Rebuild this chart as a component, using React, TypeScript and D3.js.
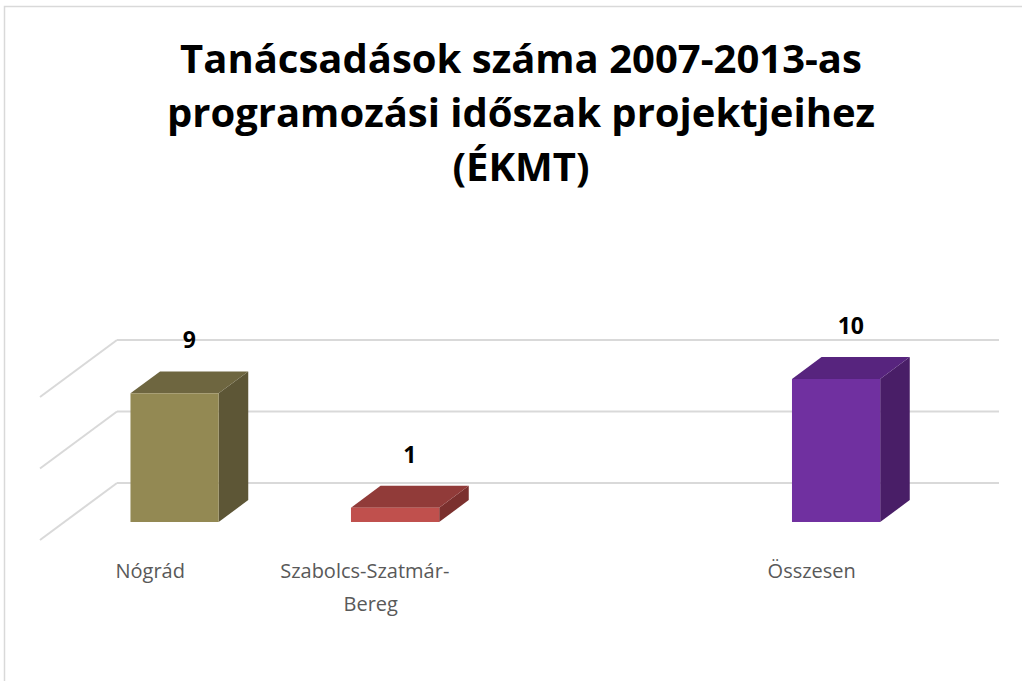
import React from "react";
import * as d3 from "d3";

const categories = ["Nógrád", "Szabolcs-Szatmár-Bereg", "", "Összesen"];
const labelLines = [["Nógrád"], ["Szabolcs-Szatmár-", "Bereg"], [""], ["Összesen"]];
const values: (number | null)[] = [9, 1, null, 10];
const ticks = [0, 5, 10];
const titleLines = [
  "Tanácsadások száma 2007-2013-as",
  "programozási időszak projektjeihez",
  "(ÉKMT)",
];
const frontColors = ["#938953", "#C0504D", "#000000", "#7030A0"];
const topColors = ["#6E6640", "#913B39", "#000000", "#57247E"];
const sideColors = ["#5D5636", "#7B302E", "#000000", "#491E67"];

export default function App() {
  const W = 1022;
  const H = 681;
  const plotLeft = 40;
  const plotRight = 922;
  const depthX = 77;
  const depthY = -57;
  const d0 = 0.316;
  const d1 = 0.7;

  const x = d3
    .scaleBand<string>()
    .domain(categories.map((c, i) => String(i)))
    .range([plotLeft, plotRight])
    .paddingInner(0)
    .paddingOuter(0);
  const y = d3.scaleLinear().domain([0, 10]).range([540, 397]);
  const bw = x.bandwidth() * 0.4;

  const font = "'Open Sans', 'DejaVu Sans', sans-serif";

  return (
    <svg
      width={W}
      height={H}
      style={{ position: "absolute", left: 0, top: 0, background: "#fff" }}
    >
      <rect x={4.5} y={6.5} width={1100} height={720} fill="#fff" stroke="#D9D9D9" strokeWidth={1.5} />
      {titleLines.map((t, i) => (
        <text
          key={i}
          x={521}
          y={73 + i * 54}
          textAnchor="middle"
          fontFamily={font}
          fontWeight={700}
          fontSize={40}
          fill="#000"
        >
          {t}
        </text>
      ))}
      {ticks.map((t) => {
        const yf = y(t);
        return (
          <g key={t} stroke="#D9D9D9" strokeWidth={2} fill="none">
            <line x1={plotLeft} y1={yf} x2={plotLeft + depthX} y2={yf + depthY} />
            <line
              x1={plotLeft + depthX}
              y1={yf + depthY}
              x2={plotRight + depthX}
              y2={yf + depthY}
            />
          </g>
        );
      })}
      {values.map((v, i) => {
        if (v === null) return null;
        const xc = (x(String(i)) as number) + x.bandwidth() / 2;
        const fx0 = xc - bw / 2 + d0 * depthX;
        const fx1 = xc + bw / 2 + d0 * depthX;
        const fyTop = y(v) + d0 * depthY;
        const fyBot = y(0) + d0 * depthY;
        const ddx = (d1 - d0) * depthX;
        const ddy = (d1 - d0) * depthY;
        const topPts = [
          [fx0, fyTop],
          [fx1, fyTop],
          [fx1 + ddx, fyTop + ddy],
          [fx0 + ddx, fyTop + ddy],
        ];
        const sidePts = [
          [fx1, fyTop],
          [fx1 + ddx, fyTop + ddy],
          [fx1 + ddx, fyBot + ddy],
          [fx1, fyBot],
        ];
        const lx = xc + ((d0 + d1) / 2) * depthX;
        const ly = y(v) + d1 * depthY - 23;
        return (
          <g key={i}>
            <polygon points={sidePts.map((p) => p.join(",")).join(" ")} fill={sideColors[i]} />
            <polygon points={topPts.map((p) => p.join(",")).join(" ")} fill={topColors[i]} />
            <rect x={fx0} y={fyTop} width={fx1 - fx0} height={fyBot - fyTop} fill={frontColors[i]} />
            <text
              x={lx}
              y={ly}
              textAnchor="middle"
              fontFamily={font}
              fontWeight={700}
              fontSize={23}
              fill="#000"
            >
              {v}
            </text>
          </g>
        );
      })}
      {labelLines.map((lines, i) => {
        const xc = (x(String(i)) as number) + x.bandwidth() / 2;
        return (
          <text
            key={i}
            textAnchor="middle"
            fontFamily={font}
            fontSize={20}
            fill="#595959"
          >
            {lines.map((l, j) => (
              <tspan key={j} x={xc - (lines.length > 1 && j === 0 ? 6 : 0)} y={578 + j * 33}>
                {l}
              </tspan>
            ))}
          </text>
        );
      })}
    </svg>
  );
}
